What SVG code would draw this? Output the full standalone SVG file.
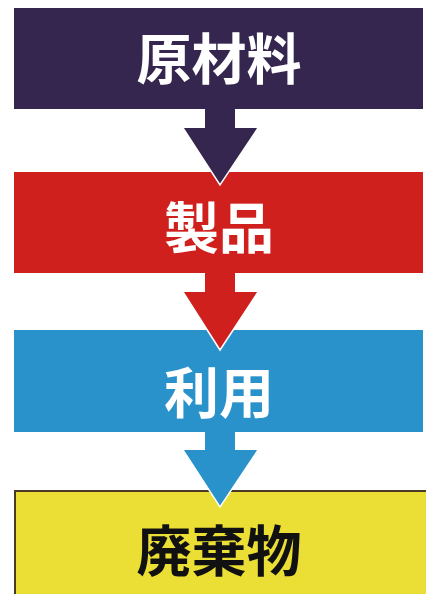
<svg xmlns="http://www.w3.org/2000/svg" width="426" height="594" viewBox="0 0 426 594">
<style>
.lbl{font-family:"Noto Sans CJK JP","Noto Sans CJK SC",sans-serif;font-size:55px;font-weight:bold;text-anchor:middle}
.w{fill:#ffffff}
.k{fill:#111111}
.edge{fill:none;stroke:#ffffff;stroke-width:1.5;stroke-linejoin:miter}
</style>
<rect width="426" height="594" fill="#ffffff"/>
<g id="node-genzairyo">
<rect x="14" y="8" width="409" height="101" fill="#35264f"/>
<text class="lbl w" x="219" y="79">原材料</text>
</g>
<g id="node-seihin">
<rect x="14" y="172" width="409" height="101" fill="#d0201e"/>
<text class="lbl w" x="219" y="248">製品</text>
</g>
<g id="node-riyo">
<rect x="14" y="330" width="409" height="102" fill="#2a92cb"/>
<text class="lbl w" x="219" y="413">利用</text>
</g>
<g id="node-haikibutsu">
<rect x="15" y="491" width="412" height="106" fill="#ebdf35" stroke="#4a3a26" stroke-width="2"/>
<text class="lbl k" x="219" y="571">廃棄物</text>
</g>
<g id="connectors">
<polygon points="205,108 235,108 235,128 258,128 220,185 183,128 205,128" fill="#35264f"/>
<polyline class="edge" points="258,128 220,185 183,128"/>
<polygon points="205,272 235,272 235,292 258,292 220,350 183,292 205,292" fill="#d0201e"/>
<polyline class="edge" points="258,292 220,350 183,292"/>
<polygon points="205,431 235,431 235,450 258,450 220,507 183,450 205,450" fill="#2a92cb"/>
<polyline class="edge" points="258,450 220,507 183,450"/>
</g>
</svg>
